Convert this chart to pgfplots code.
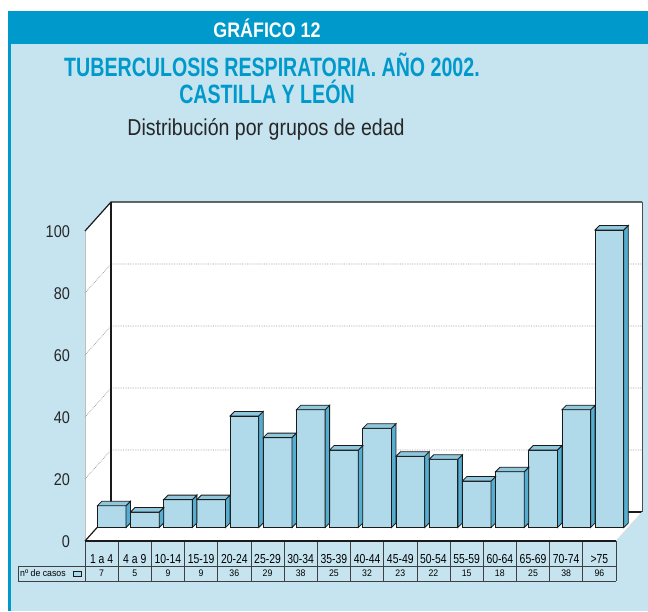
\documentclass[border=0pt]{standalone}
\usepackage{fontspec}
\setmainfont{Liberation Sans}
\newfontfamily\cond[FakeStretch=0.85]{Liberation Sans}
\newfontfamily\condt[FakeStretch=0.74]{Liberation Sans}
\newfontfamily\condc[FakeStretch=0.80]{Liberation Sans}
\newfontfamily\condv[FakeStretch=0.92]{Liberation Sans}
\usepackage{pgfplots}
\pgfplotsset{compat=1.18}

\definecolor{panel}{HTML}{C5E4F0}
\definecolor{head}{HTML}{0099CC}
\definecolor{barFront}{HTML}{B0D9EA}
\definecolor{barTop}{HTML}{8FC7DD}
\definecolor{barSide}{HTML}{55ADD0}
\definecolor{edge}{HTML}{1A1A1A}

\pgfplotstableread{
x v
0 7
1 5
2 9
3 9
4 36
5 29
6 38
7 25
8 32
9 23
10 22
11 15
12 18
13 25
14 38
15 96
}\datatable

\pgfdeclareplotmark{box3d}{%
  \pgfsetlinewidth{0.8pt}%
  \pgfsetstrokecolor{edge}%
  \pgfsetfillcolor{barSide}%
  \pgfpathmoveto{\pgfpoint{14.35pt}{0pt}}%
  \pgfpathlineto{\pgfpoint{18.85pt}{4.5pt}}%
  \pgfpathlineto{\pgfpoint{18.85pt}{4.5pt-\barh pt}}%
  \pgfpathlineto{\pgfpoint{14.35pt}{-\barh pt}}%
  \pgfpathclose
  \pgfusepath{fill,stroke}%
  \pgfsetfillcolor{barTop}%
  \pgfpathmoveto{\pgfpoint{-14.35pt}{0pt}}%
  \pgfpathlineto{\pgfpoint{14.35pt}{0pt}}%
  \pgfpathlineto{\pgfpoint{18.85pt}{4.5pt}}%
  \pgfpathlineto{\pgfpoint{-9.85pt}{4.5pt}}%
  \pgfpathclose
  \pgfusepath{fill,stroke}%
}

\begin{document}
\begin{tikzpicture}
\begin{scope}[x=1pt,y=-1pt]
  % background and panel
  \fill[white] (0,0) rectangle (648,611);
  \fill[panel] (8,11) rectangle (648,611);
  \fill[head] (8,11) rectangle (648,44);
  \fill[head] (8,11) rectangle (10.5,611);
  % titles
  \node[anchor=base, text=white, font=\cond\bfseries\fontsize{21}{24}\selectfont] at (267,37) {GRÁFICO 12};
  \node[anchor=base, text=head, font=\condt\bfseries\fontsize{26.5}{28}\selectfont] at (272,76) {TUBERCULOSIS RESPIRATORIA. AÑO 2002.};
  \node[anchor=base, text=head, font=\condt\bfseries\fontsize{26.5}{28}\selectfont] at (267,103.5) {CASTILLA Y LEÓN};
  \node[anchor=base, text=black!85, font=\cond\fontsize{23}{26}\selectfont] at (266,135.5) {Distribución por grupos de edad};
  % side wall, back wall, floor
  \fill[white] (85,231) -- (111,202) -- (111,512) -- (85,541) -- cycle;
  \fill[white] (111,202) rectangle (642,512);
  \fill[white] (85,541) -- (111,512) -- (642,512) -- (616,541) -- cycle;
  \draw[black!25, line width=0.6pt] (85,231) -- (85,541);
  \foreach \v in {20,40,60,80} {
    \draw[gray!80, densely dotted, line width=0.7pt] (85,{541-3.1*\v}) -- (111,{512-3.1*\v}) -- (642,{512-3.1*\v});
  }
  \draw[edge, line width=1.2pt] (85,231) -- (111,202) -- (642,202);
  \draw[edge, line width=1.6pt] (111,202) -- (111,512);
  \draw[black!70, line width=0.7pt] (642,202) -- (642,512);
  \draw[edge, line width=1.6pt] (111,512) -- (642,512);
  \draw[edge, line width=1.2pt] (85,541) -- (111,512);
  \draw[black!15, line width=0.5pt] (616,541) -- (642,512);
  % data table
  \draw[black!75, line width=0.7pt] (18,566) -- (616,566);
  \draw[black!75, line width=0.7pt] (18,581) -- (616,581);
  \draw[black!75, line width=0.7pt] (18,566) -- (18,581);
  \foreach \k in {0,...,16} {
    \draw[black!75, line width=0.7pt] ({85+33.1875*\k},541) -- ({85+33.1875*\k},581);
  }
  \draw[edge, line width=1.6pt] (85,541) -- (616,541);
  \foreach \lab [count=\i from 0] in {1 a 4,4 a 9,10-14,15-19,20-24,25-29,30-34,35-39,40-44,45-49,50-54,55-59,60-64,65-69,70-74,>75} {
    \node[anchor=base, inner sep=0pt, font=\condc\fontsize{13}{14}\selectfont] at ({101.6+33.1875*\i},563.5) {\lab};
  }
  \foreach \val [count=\i from 0] in {7,5,9,9,36,29,38,25,32,23,22,15,18,25,38,96} {
    \node[anchor=base, inner sep=0pt, font=\condv\fontsize{9.5}{10}\selectfont] at ({101.6+33.1875*\i},576.5) {\val};
  }
  \node[anchor=base west, inner sep=0pt, font=\condv\fontsize{9.5}{10}\selectfont] at (20,576.5) {nº de casos};
  \draw[edge, fill=barFront, line width=0.8pt] (73,571.5) rectangle (81.5,576.5);
\end{scope}

\begin{axis}[
  at={(95.05pt,-527.5pt)}, anchor=south west,
  scale only axis, width=531pt, height=310pt,
  xmin=-0.5, xmax=15.5, ymin=0, ymax=100,
  clip=false, axis line style={draw=none},
  xtick=\empty, ytick={0,20,...,100}, major tick length=0pt,
  /pgf/number format/assume math mode=true,
  yticklabel style={font=\cond\fontsize{17}{17}\selectfont, anchor=east, inner sep=0pt, xshift=-25pt, yshift=-14.5pt, text=black!85},
]
\addplot[ybar, bar width=28.7pt, fill=barFront, draw=edge, line width=0.8pt] table[x=x,y=v]{\datatable};
\addplot[only marks, mark=box3d, visualization depends on={3.1*\thisrow{v} \as \barh}] table[x=x,y=v]{\datatable};
\end{axis}

\begin{scope}[x=1pt,y=-1pt]
  \pgfresetboundingbox
  \useasboundingbox (0,0) rectangle (648,611);
\end{scope}
\end{tikzpicture}
\end{document}
